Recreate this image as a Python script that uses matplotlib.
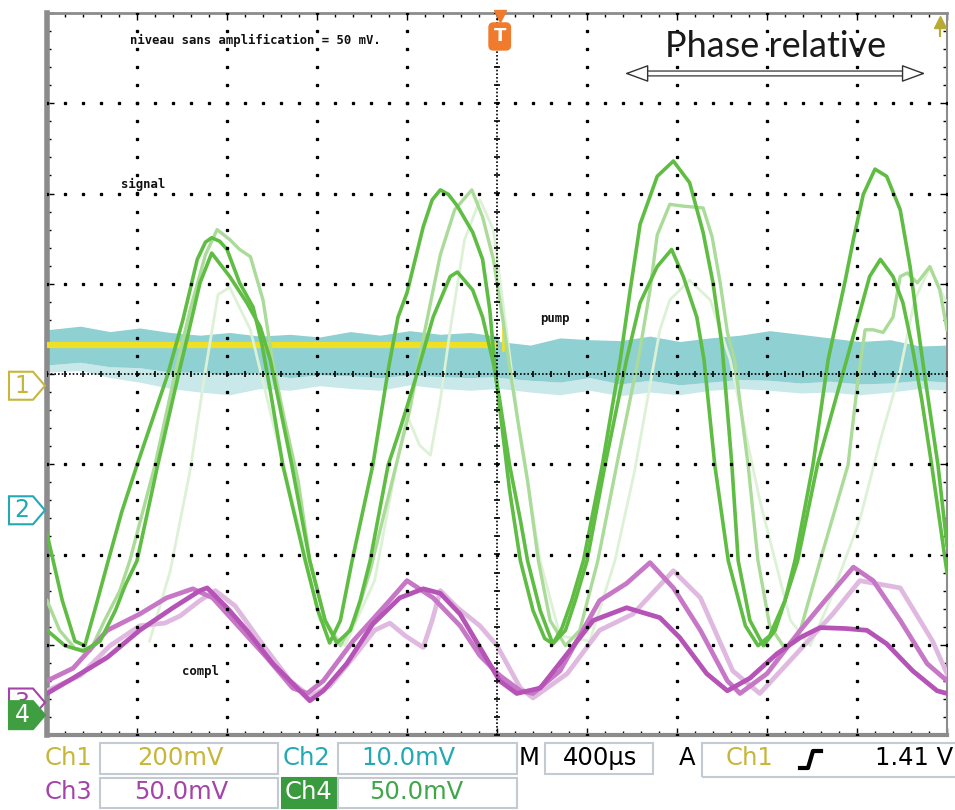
import numpy as np
import matplotlib
matplotlib.use('Agg')
import matplotlib.pyplot as plt
from matplotlib.patches import Polygon, Rectangle
from matplotlib.transforms import blended_transform_factory
from matplotlib.lines import Line2D
from matplotlib.ticker import MultipleLocator

# time axis in divisions (400 us/div), amplitudes in screen divisions

# Ch4 - three persistence traces (dark tall, dark low, light) + a faint one
ch4_a_t = [0, 0.17, 0.31, 0.42, 0.53, 0.68, 0.83, 1.0, 1.17, 1.34, 1.51, 1.67, 1.76, 1.83, 1.92, 2.0,
           2.14, 2.29, 2.39, 2.48, 2.62, 2.87, 3.01, 3.14, 3.26, 3.39, 3.62, 3.79, 3.9, 4.0, 4.18, 4.28,
           4.37, 4.46, 4.56, 4.73, 4.84, 4.92, 4.98, 5.06, 5.14, 5.26, 5.4, 5.53, 5.62, 5.72, 5.83, 5.96,
           6.17, 6.37, 6.48, 6.59, 6.78, 6.96, 7.14, 7.29, 7.4, 7.5, 7.61, 7.68, 7.81, 7.96, 8.09, 8.2,
           8.31, 8.51, 8.68, 8.87, 8.96, 9.07, 9.2, 9.33, 9.48, 9.59, 9.67, 9.76, 9.9, 10.0]
ch4_a_v = [-1.77, -2.51, -2.96, -3.01, -2.62, -2.07, -1.53, -1.01, -0.51, -0.01, 0.6, 1.27, 1.46, 1.51,
           1.47, 1.38, 1.01, 0.74, 0.32, -0.18, -1.01, -2.07, -2.62, -2.98, -2.73, -2.07, -1.01, 0.04,
           0.63, 0.9, 1.63, 1.93, 2.04, 1.99, 1.86, 1.57, 1.27, 0.71, 0.04, -0.62, -1.29, -2.07, -2.62,
           -2.93, -2.99, -2.82, -2.51, -2.07, -1.01, 0.16, 0.93, 1.66, 2.19, 2.36, 2.12, 1.57, 1.01, 0.32,
           -1.01, -2.07, -2.73, -3.01, -2.84, -2.51, -2.07, -1.01, 0.16, 1.04, 1.49, 1.99, 2.27, 2.19,
           1.82, 1.19, 0.57, -0.07, -1.01, -1.9]

ch4_b_t = [0, 0.2, 0.4, 0.59, 0.76, 0.87, 1.0, 1.23, 1.46, 1.56, 1.7, 1.83, 2.03, 2.22, 2.37, 2.48,
           2.72, 2.92, 3.09, 3.22, 3.37, 3.48, 3.59, 3.79, 3.92, 4.09, 4.29, 4.48, 4.56, 4.73, 4.84, 4.96,
           5.03, 5.14, 5.26, 5.34, 5.48, 5.62, 5.76, 5.87, 6.0, 6.2, 6.44, 6.59, 6.78, 6.94, 7.07, 7.22,
           7.3, 7.42, 7.57, 7.76, 7.9, 8.03, 8.2, 8.34, 8.56, 8.76, 8.9, 9.0, 9.14, 9.26, 9.4, 9.51, 9.62,
           9.72, 9.83, 10.0]
ch4_b_v = [-2.84, -3.01, -3.07, -2.96, -2.62, -2.34, -2.07, -1.01, -0.01, 0.41, 1.01, 1.34, 1.08, 0.79,
           0.52, 0.16, -1.01, -2.07, -2.73, -2.98, -2.84, -2.51, -2.07, -1.01, -0.62, -0.07, 0.63, 1.08,
           1.13, 0.93, 0.63, 0.12, -0.29, -1.01, -1.62, -2.07, -2.62, -2.99, -2.84, -2.51, -2.07, -1.01,
           0.16, 0.79, 1.19, 1.38, 1.08, 0.63, 0.16, -1.01, -2.07, -2.79, -3.01, -2.9, -2.51, -2.07, -1.01,
           -0.29, 0.21, 0.57, 1.08, 1.27, 1.08, 0.79, 0.27, -0.29, -1.01, -2.2]

ch4_c_t = [0, 0.14, 0.31, 0.48, 0.64, 0.81, 0.92, 1.2, 1.42, 1.59, 1.76, 1.89, 2.03, 2.14, 2.26, 2.4,
           2.51, 2.64, 2.79, 2.92, 3.09, 3.26, 3.42, 3.59, 3.81, 4.03, 4.2, 4.37, 4.53, 4.72, 4.84, 4.96,
           5.07, 5.14, 5.23, 5.34, 5.46, 5.59, 5.76, 5.92, 6.12, 6.34, 6.57, 6.7, 6.78, 6.92, 7.07, 7.29,
           7.39, 7.48, 7.56, 7.64, 7.79, 7.9, 8.03, 8.2, 8.37, 8.59, 8.9, 9.01, 9.09, 9.18, 9.29, 9.4,
           9.48, 9.56, 9.67, 9.81, 9.92, 10.0]
ch4_c_v = [-2.51, -2.84, -3.04, -3.07, -2.73, -2.4, -2.07, -1.01, -0.01, 0.71, 1.32, 1.6, 1.49, 1.38,
           1.3, 0.82, 0.12, -0.51, -1.18, -2.07, -2.73, -3.01, -2.73, -2.18, -1.29, -0.4, 0.49, 1.32,
           1.82, 2.04, 1.74, 1.27, 0.57, 0.08, -0.51, -1.18, -2.07, -2.73, -3.01, -2.84, -2.07, -0.96,
           0.16, 0.93, 1.54, 1.88, 1.86, 1.84, 1.52, 1.01, 0.46, 0.16, -1.01, -2.07, -2.79, -3.04, -2.84,
           -2.07, -1.01, -0.07, 0.49, 0.49, 0.46, 0.63, 1.08, 1.12, 1.01, 1.19, 0.93, 0.49]

ch4_d_t = [1.14, 1.37, 1.59, 1.76, 1.9, 2.03, 2.26, 2.53, 2.81, 3.03, 3.31, 3.64, 3.87, 4.0, 4.14,
           4.26, 4.37, 4.48, 4.64, 4.81, 4.96, 5.09, 5.26, 5.48, 5.7, 6.03, 6.31, 6.53, 6.81, 6.92,
           7.14, 7.37, 7.59, 7.92, 8.26, 8.48, 8.7, 9.03, 9.26, 9.48, 9.64, 9.81, 9.98]
ch4_d_v = [-2.96, -2.18, -1.07, 0.04, 0.88, 0.96, 0.49, -0.62, -1.73, -2.73, -3.01, -2.29, -1.07,
           -0.46, -0.79, -0.9, -0.29, 0.49, 1.49, 1.93, 1.6, 0.6, -0.73, -2.07, -2.9, -2.96, -2.07,
           -1.07, 0.49, 0.82, 1.04, 0.82, 0.16, -1.4, -2.73, -3.01, -2.51, -1.62, -0.73, 0.04, 0.82,
           1.18, 0.82]

# Ch3 - complementary output
ch3_a_t = [0, 0.29, 0.67, 1.03, 1.4, 1.7, 1.78, 2.0, 2.22, 2.51, 2.81, 2.92, 3.07, 3.33, 3.62, 3.92,
           4.18, 4.37, 4.59, 4.81, 5.03, 5.22, 5.48, 5.78, 6.07, 6.44, 6.81, 7.03, 7.33, 7.56, 7.81,
           8.11, 8.37, 8.59, 8.87, 9.11, 9.33, 9.62, 9.89, 10.0]
ch3_a_v = [-3.54, -3.37, -3.14, -2.84, -2.59, -2.4, -2.37, -2.59, -2.84, -3.21, -3.51, -3.62, -3.51,
           -3.21, -2.77, -2.48, -2.38, -2.43, -2.66, -3.03, -3.4, -3.54, -3.48, -3.1, -2.73, -2.59,
           -2.7, -2.92, -3.32, -3.51, -3.37, -3.1, -2.92, -2.81, -2.82, -2.84, -2.99, -3.29, -3.51, -3.54]

ch3_b_t = [0, 0.29, 0.67, 1.03, 1.33, 1.62, 1.84, 2.14, 2.44, 2.73, 2.89, 3.07, 3.4, 3.78, 4.0, 4.29,
           4.59, 4.81, 5.03, 5.26, 5.4, 5.7, 5.92, 6.14, 6.44, 6.7, 6.96, 7.26, 7.56, 7.7, 8.0, 8.37,
           8.67, 8.96, 9.18, 9.48, 9.78, 10.0]
ch3_b_v = [-3.4, -3.26, -2.84, -2.66, -2.48, -2.38, -2.48, -2.81, -3.14, -3.48, -3.54, -3.4, -2.96,
           -2.54, -2.29, -2.48, -2.79, -3.12, -3.34, -3.51, -3.54, -3.29, -2.9, -2.51, -2.32, -2.09,
           -2.37, -2.84, -3.4, -3.54, -3.32, -2.84, -2.48, -2.14, -2.29, -2.73, -3.21, -3.4]

ch3_c_t = [0, 0.37, 0.7, 1.03, 1.31, 1.48, 1.7, 1.87, 2.09, 2.37, 2.7, 2.92, 3.14, 3.42, 3.64, 3.81,
           3.98, 4.18, 4.28, 4.37, 4.56, 4.81, 5.0, 5.26, 5.4, 5.78, 6.14, 6.51, 6.96, 7.26, 7.62, 7.92,
           8.29, 8.73, 9.03, 9.48, 9.84, 10.0]
ch3_c_v = [-3.51, -3.34, -3.01, -2.79, -2.76, -2.68, -2.51, -2.4, -2.57, -2.96, -3.4, -3.57, -3.46,
           -3.12, -2.84, -2.76, -2.9, -3.03, -2.73, -2.4, -2.59, -2.79, -3.01, -3.48, -3.59, -3.32,
           -2.84, -2.66, -2.18, -2.48, -3.29, -3.54, -3.14, -2.66, -2.29, -2.37, -2.96, -3.32]

# Ch2 - pump, noisy band (top / bottom of the dense part / pale lower fringe)
ch2_t = [0, 0.37, 0.7, 1.03, 1.37, 1.7, 2.03, 2.37, 2.7, 3.03, 3.37, 3.7, 4.03, 4.37, 4.7, 5.0,
         5.03, 5.37, 5.7, 6.03, 6.37, 6.7, 7.03, 7.37, 7.7, 8.03, 8.37, 8.7, 9.03, 9.37, 9.7, 10.0]
ch2_top = [0.49, 0.53, 0.47, 0.51, 0.46, 0.43, 0.46, 0.42, 0.44, 0.41, 0.47, 0.43, 0.48, 0.44, 0.46, 0.42,
           0.36, 0.32, 0.4, 0.38, 0.37, 0.42, 0.36, 0.4, 0.43, 0.48, 0.44, 0.4, 0.36, 0.38, 0.31, 0.32]
ch2_bot = [0.1, 0.13, 0.08, 0.07, 0.02, 0.02, -0.01, 0.02, -0.04, -0.01, -0.02, -0.04, -0.01, -0.03, -0.04, -0.03,
           -0.04, -0.07, -0.09, -0.04, -0.11, -0.07, -0.12, -0.09, -0.06, -0.07, -0.1, -0.08, -0.11, -0.1, -0.07, -0.09]
ch2_pale = [0.02, 0.04, -0.04, -0.09, -0.16, -0.2, -0.23, -0.16, -0.18, -0.13, -0.16, -0.18, -0.12, -0.16, -0.18, -0.16,
            -0.16, -0.2, -0.23, -0.18, -0.24, -0.2, -0.23, -0.18, -0.16, -0.18, -0.21, -0.2, -0.23, -0.2, -0.16, -0.18]

# Ch1 - trigger channel, flat until the trigger
ch1_t = [0.0, 5.0]
ch1_v = [0.32, 0.32]

C_CH1 = '#c6b63a'
C_CH2 = '#22a9b4'
C_CH3 = '#a544a8'
C_CH4 = '#3e9e40'

W, H = 955, 810
fig = plt.figure(figsize=(W / 100, H / 100), dpi=100)
ax = fig.add_axes([47 / W, 75 / H, 900 / W, 722 / H])
ax.set_xlim(0, 10)
ax.set_ylim(-4, 4)

# graticule (drawn over the traces, like on the scope)
ax.xaxis.set_major_locator(MultipleLocator(1))
ax.xaxis.set_minor_locator(MultipleLocator(0.2))
ax.yaxis.set_major_locator(MultipleLocator(1))
ax.yaxis.set_minor_locator(MultipleLocator(0.2))
ax.tick_params(which='both', direction='in', top=True, right=True, labelbottom=False,
               labelleft=False, color='k', width=1)
ax.tick_params(which='major', length=5)
ax.tick_params(which='minor', length=3)
for side, lw in [('left', 4), ('bottom', 3), ('top', 2), ('right', 1.5)]:
    ax.spines[side].set_color('#8c8c8c')
    ax.spines[side].set_linewidth(lw)

GZ = 8
dots = np.arange(0, 10.01, 0.2)
for yy in range(-3, 4):
    if yy != 0:
        ax.plot(dots, np.full_like(dots, yy), ls='none', marker='s', ms=1.4, color='k', zorder=GZ)
vdots = np.arange(-4, 4.01, 0.2)
for xx in range(1, 10):
    if xx != 5:
        ax.plot(np.full_like(vdots, xx), vdots, ls='none', marker='s', ms=1.4, color='k', zorder=GZ)
ax.axhline(0, color='k', lw=1.2, ls=(0, (1, 1.2)), zorder=GZ)
ax.axvline(5, color='k', lw=1.2, ls=(0, (1, 1.2)), zorder=GZ)
ax.plot(dots, np.zeros_like(dots), ls='none', marker='|', ms=5, mew=1.2, color='k', zorder=GZ)
ax.plot(np.full_like(vdots, 5), vdots, ls='none', marker='_', ms=5, mew=1.2, color='k', zorder=GZ)

# traces
ax.fill_between(ch2_t, ch2_bot, ch2_pale, color='#c8e8e9', lw=0, zorder=2)
ax.fill_between(ch2_t, ch2_top, ch2_bot, color='#8fd0d2', lw=0, zorder=2)
ax.plot(ch1_t, ch1_v, color='#f0e024', lw=4.5, solid_capstyle='butt', zorder=3)
ax.plot([5.07, 5.07], [0.27, 0.57], color='#f0e024', lw=2, zorder=3)

ax.plot(ch4_d_t, ch4_d_v, color='#ddf1d6', lw=2, zorder=4)
ax.plot(ch3_c_t, ch3_c_v, color='#e0b9e0', lw=3.4, zorder=4)
ax.plot(ch4_c_t, ch4_c_v, color='#aadb98', lw=2.4, zorder=5)
ax.plot(ch3_b_t, ch3_b_v, color='#c677c6', lw=3.4, zorder=5)
ax.plot(ch3_a_t, ch3_a_v, color='#b653b6', lw=3.4, zorder=6)
ax.plot(ch4_b_t, ch4_b_v, color='#5fbd43', lw=2.6, zorder=7)
ax.plot(ch4_a_t, ch4_a_v, color='#5fbd43', lw=2.6, zorder=7)

# annotations on the screen
lab = dict(family='DejaVu Sans Mono', weight='bold', fontsize=8.8, color='#111', zorder=9)
ax.text(2.31, 3.7, 'niveau sans amplification = 50 mV.', ha='center', va='center', **lab)
ax.text(1.07, 2.1, 'signal', ha='center', va='center', **lab)
ax.text(5.64, 0.61, 'pump', ha='center', va='center', **lab)
ax.text(1.71, -3.3, 'compl', ha='center', va='center', **lab)

ax.text(8.09, 3.63, 'Phase relative', ha='center', va='center', family='Lato',
        fontsize=26, color='#1a1a1a', zorder=9)
ax.annotate('', xy=(6.62, 3.33), xytext=(9.55, 3.33),
            arrowprops=dict(arrowstyle='-', lw=4.4, color='#333', shrinkA=0, shrinkB=0), zorder=9)
ax.annotate('', xy=(6.62, 3.33), xytext=(9.55, 3.33),
            arrowprops=dict(arrowstyle='-', lw=2.6, color='white', shrinkA=0, shrinkB=0), zorder=9)
for tip, base in [(6.42, 6.64), (9.76, 9.54)]:
    ax.annotate('', xy=(tip, 3.33), xytext=(base, 3.33),
                arrowprops=dict(arrowstyle='-|>,head_length=1.5,head_width=0.55', mutation_scale=10,
                                fc='white', ec='#333', lw=1, shrinkA=0, shrinkB=0), zorder=10)

# trigger position and level markers
ax.plot([5.03], [3.97], marker='v', ms=8, color='#f07b2c', clip_on=False, zorder=10)
ax.text(5.03, 3.74, 'T', ha='center', va='center', color='white', fontsize=13, weight='bold',
        bbox=dict(boxstyle='round,pad=0.25', fc='#f07b2c', ec='#f07b2c'), zorder=10)
ax.plot([9.92], [3.9], marker='^', ms=8, color='#b8ab34', zorder=10)
ax.plot([9.92, 9.92], [3.9, 3.75], color='#b8ab34', lw=1.5, zorder=10)

# channel ground markers on the left
tr = blended_transform_factory(fig.transFigure, ax.transData)


def channel_marker(y, label, color, z, filled=False):
    x0, xt, x1, h = 9 / W, 33 / W, 45 / W, 0.155
    pts = [(x0, y - h), (xt, y - h), (x1, y), (xt, y + h), (x0, y + h)]
    ax.add_patch(Polygon(pts, closed=True, transform=tr, clip_on=False, lw=1.5,
                         fc=color if filled else 'white', ec=color, zorder=z))
    ax.text(22 / W, y, label, transform=tr, ha='center', va='center', fontsize=17,
            color='white' if filled else color, clip_on=False, zorder=z + 0.5)


channel_marker(-0.13, '1', C_CH1, 11)
channel_marker(-1.51, '2', C_CH2, 11)
channel_marker(-3.64, '3', C_CH3, 11)
channel_marker(-3.78, '4', C_CH4, 12, filled=True)

# readout bar at the bottom


def fx(x):
    return x / W


def fy(y):
    return 1 - y / H


def box(x0, y0, x1, y1, fc='none', ec='#c3cad2'):
    fig.add_artist(Rectangle((fx(x0), fy(y1)), fx(x1 - x0), (y1 - y0) / H, transform=fig.transFigure,
                             fc=fc, ec=ec, lw=1.5))


def label(x, y, s, color, ha='left'):
    fig.text(fx(x), fy(y), s, color=color, ha=ha, va='center', fontsize=17.5, family='DejaVu Sans')


box(100, 743, 278, 774)
box(338, 743, 517, 774)
box(545, 743, 653, 774)
box(702, 743, 956, 777)
box(100, 778, 278, 808)
box(282, 778, 337, 808, fc='#3a9a3e', ec='#3a9a3e')
box(338, 778, 517, 808)

label(45, 758, 'Ch1', C_CH1)
label(180, 758, '200mV', C_CH1, ha='center')
label(283, 758, 'Ch2', C_CH2)
label(408, 758, '10.0mV', C_CH2, ha='center')
label(519, 758, 'M', 'k')
label(600, 758, '400µs', 'k', ha='center')
label(679, 758, 'A', 'k')
label(726, 758, 'Ch1', C_CH1)
label(953, 758, '1.41 V', 'k', ha='right')
label(45, 792, 'Ch3', C_CH3)
label(181, 792, '50.0mV', C_CH3, ha='center')
label(309, 792, 'Ch4', 'white', ha='center')
label(416, 792, '50.0mV', '#3fa64a', ha='center')

edge = [(800, 768), (808, 768), (813, 751), (821, 751)]
fig.add_artist(Line2D([fx(p[0]) for p in edge], [fy(p[1]) for p in edge], color='k', lw=3,
                      transform=fig.transFigure))

fig.savefig('out.png', dpi=100)
